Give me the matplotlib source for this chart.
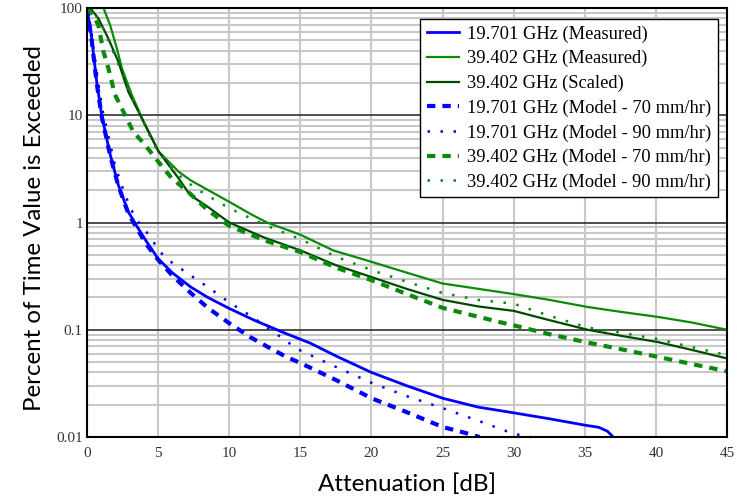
import numpy as np
import matplotlib
matplotlib.use("Agg")
import matplotlib.pyplot as plt
from matplotlib.ticker import FixedLocator, FixedFormatter, LogLocator, NullFormatter

# ---- data (attenuation in dB, percent of time) ----
b_meas_x = [0, 0.33, 0.68, 1.03, 1.63, 2.2, 2.9, 3.6, 4.2, 5.0, 6.0, 7.3, 8.5, 10, 11.8, 12.9, 14.0, 15.7,
            17.5, 20, 22.5, 25, 27.5, 30, 32.5, 35, 36.0, 36.6, 37.0]
b_meas_y = [100, 52, 20.6, 10, 4.3, 2.24, 1.26, 0.88, 0.66, 0.46, 0.34, 0.25, 0.2, 0.158, 0.122, 0.106, 0.092, 0.075,
            0.057, 0.040, 0.030, 0.023, 0.019, 0.0168, 0.0148, 0.0129, 0.0123, 0.0113, 0.01]

b_70_x = [0, 0.33, 0.68, 1.03, 1.63, 2.2, 2.9, 3.6, 4.2, 5.0, 6.0, 7.3, 8.5, 10, 11.5, 12.9, 14.0, 15,
          17.5, 20, 22.5, 25, 26.5, 27.6]
b_70_y = [100, 50, 20, 9.8, 4.2, 2.2, 1.22, 0.84, 0.62, 0.45, 0.32, 0.22, 0.16, 0.115, 0.085, 0.067, 0.056, 0.049,
          0.034, 0.023, 0.017, 0.0124, 0.011, 0.01]

b_90_x = [0, 0.35, 0.75, 1.1, 1.97, 2.68, 3.38, 4.55, 5.0, 6.0, 7.3, 8.5, 10, 11.5, 12.9, 14.8,
          17.5, 20, 22.5, 25, 27.5, 30, 31.2]
b_90_y = [100, 55, 22, 11, 3.4, 1.8, 1.1, 0.71, 0.55, 0.42, 0.32, 0.25, 0.18, 0.135, 0.1, 0.066,
          0.045, 0.032, 0.024, 0.0186, 0.0142, 0.0107, 0.01]

g_meas_x = [0, 1.16, 1.63, 2.1, 2.45, 3.15, 3.97, 5.03, 6.44, 7.25, 8.3, 10, 11.5, 12.65, 15, 17.3, 20,
            22.5, 25, 29, 30, 32.5, 35.2, 37.5, 40.1, 42.5, 45]
g_meas_y = [100, 100, 69, 42, 27.5, 15.5, 8.7, 4.6, 2.98, 2.49, 2.08, 1.56, 1.2, 1.0, 0.77, 0.55, 0.43,
            0.34, 0.27, 0.225, 0.215, 0.19, 0.163, 0.147, 0.132, 0.117, 0.10]

g_scaled_x = [0, 0.33, 0.8, 1.5, 2.2, 2.9, 3.85, 5.03, 6.44, 7.25, 8.3, 10, 12.5, 15, 17.5, 20, 22.5,
              25, 27.5, 30, 32.5, 35.2, 37.5, 40.1, 42.5, 45]
g_scaled_y = [100, 96, 80, 52, 31.6, 16.6, 9.4, 4.6, 2.58, 1.8, 1.46, 1.0, 0.72, 0.55, 0.40, 0.31, 0.24,
              0.19, 0.165, 0.15, 0.123, 0.10, 0.088, 0.077, 0.065, 0.054]

g_70_x = [0, 0.45, 0.8, 1.16, 1.5, 1.97, 2.56, 3.26, 4.08, 4.8, 5.96, 7.1, 8.5, 10, 12.5, 15, 17.5, 20,
          22.5, 25, 29, 30, 32.5, 35.2, 37.5, 40.1, 42.5, 45]
g_70_y = [100, 86, 69, 39, 27.5, 15.5, 10.8, 7.0, 5.3, 4.0, 2.58, 1.94, 1.3, 0.93, 0.68, 0.53, 0.38, 0.29,
          0.215, 0.16, 0.118, 0.11, 0.091, 0.076, 0.066, 0.056, 0.048, 0.041]

g_90_x = [0, 0.4, 1.2, 2.2, 3.0, 3.7, 4.7, 5.8, 6.8, 8.2, 10, 12.5, 15, 17.5, 20, 22.5, 25, 27.5,
          30, 32.5, 35.2, 37.5, 40.1, 42.5, 45]
g_90_y = [100, 97, 62, 30, 16, 10.5, 5.3, 3.4, 2.5, 1.87, 1.36, 0.95, 0.70, 0.48, 0.36, 0.28, 0.22, 0.19,
          0.175, 0.135, 0.105, 0.094, 0.082, 0.069, 0.058]

labels = ["19.701 GHz (Measured)", "39.402 GHz (Measured)", "39.402 GHz (Scaled)",
          "19.701 GHz (Model - 70 mm/hr)", "19.701 GHz (Model - 90 mm/hr)",
          "39.402 GHz (Model - 70 mm/hr)", "39.402 GHz (Model - 90 mm/hr)"]

x_ticks = [0, 5, 10, 15, 20, 25, 30, 35, 40, 45]
y_ticks = [0.01, 0.1, 1, 10, 100]
y_tick_labels = ["0.01", "0.1", "1", "10", "100"]

blue = "#0000ff"
green = "#0a8a0a"
dkgreen = "#004a00"
dashed = (0, (2.0, 1.7))
dotted = (0, (1, 4.2))

fig = plt.figure(figsize=(7.4, 4.99), dpi=100)
ax = fig.add_axes([87 / 740, 1 - 437 / 499, 640 / 740, 429 / 499])

ax.plot(b_meas_x, b_meas_y, color=blue, lw=2.0, label=labels[0])
ax.plot(g_meas_x, g_meas_y, color=green, lw=1.6, label=labels[1])
ax.plot(g_scaled_x, g_scaled_y, color=dkgreen, lw=1.6, label=labels[2])
ax.plot(b_70_x, b_70_y, color=blue, lw=3.0, ls=dashed, label=labels[3])
ax.plot(b_90_x, b_90_y, color=blue, lw=1.8, ls=dotted, label=labels[4])
ax.plot(g_70_x, g_70_y, color=green, lw=3.0, ls=dashed, label=labels[5])
ax.plot(g_90_x, g_90_y, color=green, lw=1.8, ls=dotted, label=labels[6])

ax.set_yscale("log")
ax.set_xlim(0, 45)
ax.set_ylim(0.01, 100)

# grid: grey verticals, grey minor horizontals, dark decade lines
ax.xaxis.set_major_locator(FixedLocator(x_ticks))
ax.yaxis.set_major_locator(FixedLocator(y_ticks))
ax.yaxis.set_major_formatter(FixedFormatter(y_tick_labels))
ax.yaxis.set_minor_locator(LogLocator(base=10, subs=np.arange(2, 10)))
ax.yaxis.set_minor_formatter(NullFormatter())
ax.grid(True, axis="x", color="#c8c8c8", lw=1.5)
ax.grid(True, axis="y", which="minor", color="#c8c8c8", lw=1.5)
ax.grid(True, axis="y", which="major", color="#303030", lw=1.2)
ax.set_axisbelow(True)

ax.tick_params(which="both", length=0)
ax.tick_params(axis="x", pad=7)
ax.tick_params(axis="y", pad=3)
for lab in ax.get_xticklabels() + ax.get_yticklabels():
    lab.set_fontfamily("Liberation Serif")
    lab.set_fontsize(11)
    lab.set_color("#333333")

for sp in ax.spines.values():
    sp.set_linewidth(1.5)
    sp.set_color("black")

ax.set_xlabel("Attenuation [dB]", fontfamily="Lato", fontsize=17.5, labelpad=10)
ax.set_ylabel("Percent of Time Value is Exceeded", fontfamily="Lato", fontsize=17.3)
ax.yaxis.set_label_coords(-0.066, 0.488)

leg = ax.legend(loc="upper right", bbox_to_anchor=(718 / 740, 1 - 19 / 499),
                bbox_transform=fig.transFigure, borderaxespad=0,
                prop={"family": "Liberation Serif", "size": 13.3},
                handlelength=1.75, handletextpad=0.45, labelspacing=0.4,
                borderpad=0.35, fancybox=False, framealpha=1, edgecolor="black")
leg.get_frame().set_linewidth(1.0)

fig.savefig("out.png", dpi=100)
